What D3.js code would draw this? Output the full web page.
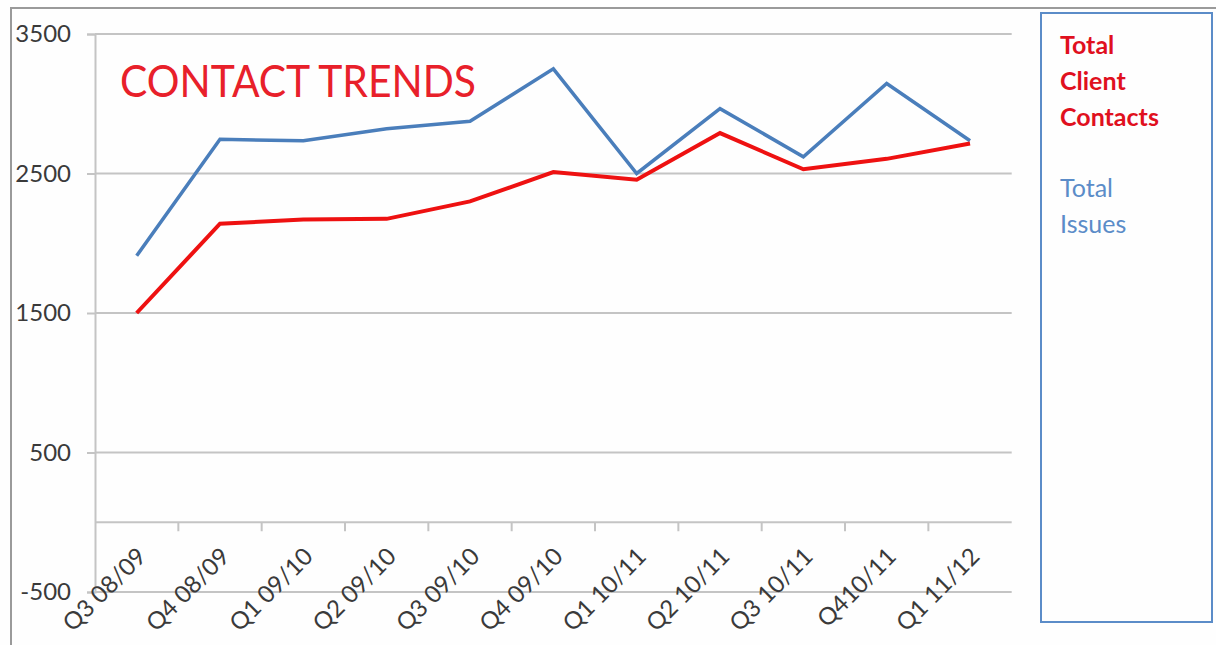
<!DOCTYPE html>
<html><head><meta charset="utf-8">
<script src="https://cdn.jsdelivr.net/npm/d3@7"></script>
<style>html,body{margin:0;padding:0;background:#fff;}svg{display:block;}</style>
</head><body>
<svg id="c" width="1216" height="645"></svg>
<script>
const categories = ["Q3 08/09","Q4 08/09","Q1 09/10","Q2 09/10","Q3 09/10","Q4 09/10","Q1 10/11","Q2 10/11","Q3 10/11","Q410/11","Q1 11/12"];
const clientContacts = [1500,2140,2170,2175,2300,2510,2455,2790,2530,2605,2715];
const totalIssues = [1910,2745,2735,2820,2875,3250,2500,2965,2620,3145,2735];
const yTicks = [-500,500,1500,2500,3500];
const titleText = "CONTACT TRENDS";
const legendContacts = ["Total","Client","Contacts"];
const legendIssues = ["Total","Issues"];

const svg = d3.select("#c");
const font = "Lato, 'Open Sans', sans-serif";
svg.append("rect").attr("width",1216).attr("height",645).attr("fill","#fefefe");
// outer frame
svg.append("rect").attr("x",11).attr("y",8).attr("width",1230).attr("height",660)
  .attr("fill","none").attr("stroke","#9a9a9a").attr("stroke-width",2);

const left = 95, right = 1011.7;
const x = d3.scaleBand().domain(categories).range([left,right]);
const y = d3.scaleLinear().domain([-500,3500]).range([592,34]);
const cx = d => x(d) + x.bandwidth()/2;
const grid = "#c4c4c4";

// gridlines + y ticks
const yAxis = d3.axisLeft(y).tickValues(yTicks).tickSize(8).tickFormat(d => String(d)).tickPadding(16);
const gy = svg.append("g").attr("transform",`translate(${left},0)`).call(yAxis);
gy.select(".domain").attr("stroke",grid).attr("stroke-width",2);
gy.selectAll(".tick line").attr("stroke",grid).attr("stroke-width",2);
gy.selectAll(".tick text").attr("font-family",font).attr("font-size",24).attr("fill","#3a3a3a");
svg.append("g").selectAll("line").data(yTicks).join("line")
  .attr("x1",left).attr("x2",right).attr("y1",d=>y(d)).attr("y2",d=>y(d))
  .attr("stroke",grid).attr("stroke-width",2);

// category axis at 0
const boundaries = categories.map(c=>x(c)+x.bandwidth()).slice(0,-1);
svg.append("line").attr("x1",left).attr("x2",right).attr("y1",y(0)).attr("y2",y(0))
  .attr("stroke",grid).attr("stroke-width",2);
svg.append("g").selectAll("line").data(boundaries).join("line")
  .attr("x1",d=>d).attr("x2",d=>d).attr("y1",y(0)).attr("y2",y(0)+9)
  .attr("stroke",grid).attr("stroke-width",2);
svg.append("g").selectAll("text").data(categories).join("text")
  .attr("transform",d=>`translate(${cx(d)+11},558) rotate(-45)`)
  .attr("text-anchor","end").attr("font-family",font).attr("font-size",24)
  .attr("fill","#3a3a3a").text(d=>d);

// lines
const line = d3.line().x((d,i)=>cx(categories[i])).y(d=>y(d));
svg.append("path").datum(totalIssues).attr("d",line).attr("fill","none")
  .attr("stroke","#4A7EBB").attr("stroke-width",3.5).attr("stroke-linejoin","miter");
svg.append("path").datum(clientContacts).attr("d",line).attr("fill","none")
  .attr("stroke","#EE1111").attr("stroke-width",4).attr("stroke-linejoin","miter");

// title
svg.append("text").attr("x",120).attr("y",97).attr("font-family",font).attr("font-size",44)
  .attr("fill","#E8202A").attr("textLength",356).attr("lengthAdjust","spacingAndGlyphs").text(titleText);

// legend
svg.append("rect").attr("x",1041).attr("y",13).attr("width",171).attr("height",609)
  .attr("fill","none").attr("stroke","#5B8CC8").attr("stroke-width",2);
svg.append("g").selectAll("text").data(legendContacts).join("text")
  .attr("x",1060).attr("y",(d,i)=>54+i*36).attr("font-family",font).attr("font-weight","bold")
  .attr("font-size",25).attr("fill","#E0101E").text(d=>d);
svg.append("g").selectAll("text").data(legendIssues).join("text")
  .attr("x",1060).attr("y",(d,i)=>197+i*36).attr("font-family",font)
  .attr("font-size",25).attr("fill","#5B8CC8").text(d=>d);
</script>
</body></html>
